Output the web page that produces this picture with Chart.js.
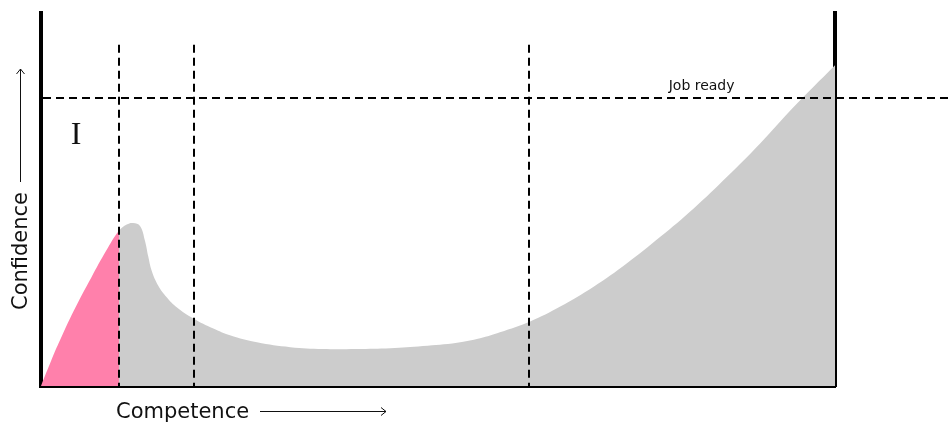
<!DOCTYPE html>
<html>
<head>
<meta charset="utf-8">
<script src="https://cdn.jsdelivr.net/npm/chart.js@4.4.1/dist/chart.umd.min.js"></script>
<style>
  html, body { margin: 0; padding: 0; background: #fff; }
  #wrap { width: 948px; height: 429px; }
</style>
</head>
<body>
<div id="wrap"><canvas id="graphic"></canvas></div>
<script>
// competence (x) vs confidence (y), 0..100 both ways
const competence = [0, 1.3, 2.23, 4.16, 6.34, 8.22, 9.82, 10.8, 11.6, 12.47, 13.1, 13.51, 13.94, 14.77, 15.83, 17.09, 19.18, 21.7, 23.8, 27.2, 31.4, 35.5, 39.8, 44.0, 48.1, 52.4, 55.3, 57.8, 61.6, 65.4, 69.6, 73.8, 78.0, 82.2, 86.4, 90.6, 94.7, 100]
const confidence = [0, 6.9, 11.5, 20.3, 29.1, 36.3, 41.6, 43.3, 43.7, 42.9, 38.9, 34.7, 30.9, 26.9, 23.8, 21.1, 18.1, 15.4, 13.6, 11.7, 10.4, 9.9, 9.9, 10.1, 10.7, 11.6, 12.8, 14.4, 17.3, 21.3, 26.6, 32.9, 40.0, 47.6, 56.1, 65.1, 74.6, 86.0]
const stages = [9.82, 19.3, 61.5]   // vertical dashed dividers
const stageTop = 91.5
const jobReady = 77.3
const pinkEnd = 9.82

const pink = '#ff80ab'
const gray = '#cccccc'
const fuente = '"DejaVu Sans"'

const puntos = competence.map((c, i) => ({x: c, y: confidence[i]}))

const overlay = {
  id: 'overlay',
  afterDraw(chart) {
    const {ctx, scales: {x, y}} = chart
    ctx.save()
    ctx.strokeStyle = '#000'
    ctx.lineWidth = 2
    ctx.setLineDash([8, 5])
    // vertical stage lines
    stages.forEach(s => {
      const px = Math.round(x.getPixelForValue(s))
      ctx.beginPath()
      ctx.moveTo(px, y.getPixelForValue(stageTop))
      ctx.lineTo(px, y.getPixelForValue(0))
      ctx.stroke()
    })
    // job ready line, runs past the right edge
    const jy = Math.round(y.getPixelForValue(jobReady))
    ctx.beginPath()
    ctx.moveTo(x.getPixelForValue(0) + 2, jy)
    ctx.lineTo(chart.width, jy)
    ctx.stroke()
    ctx.setLineDash([])

    ctx.fillStyle = '#111'
    ctx.font = '14px ' + fuente
    ctx.textAlign = 'center'
    ctx.fillText('Job ready', x.getPixelForValue(83.2), jy - 8)

    ctx.font = '32px "Liberation Serif"'
    ctx.fillText('I', 76, 144)

    // x axis title + arrow
    ctx.font = '21px ' + fuente
    ctx.textAlign = 'left'
    ctx.fillText('Competence', 116, 418)
    ctx.lineWidth = 1
    ctx.strokeStyle = '#111'
    ctx.beginPath()
    ctx.moveTo(260, 411.5)
    ctx.lineTo(386, 411.5)
    ctx.moveTo(381, 407.5)
    ctx.lineTo(386, 411.5)
    ctx.lineTo(381, 415.5)
    ctx.stroke()

    // y axis title + arrow
    ctx.save()
    ctx.translate(27, 251)
    ctx.rotate(-Math.PI / 2)
    ctx.textAlign = 'center'
    ctx.fillText('Confidence', 0, 0)
    ctx.restore()
    ctx.beginPath()
    ctx.moveTo(20.5, 182)
    ctx.lineTo(20.5, 69)
    ctx.moveTo(16.5, 74)
    ctx.lineTo(20.5, 69)
    ctx.lineTo(24.5, 74)
    ctx.stroke()
    ctx.restore()
  }
}

const ejeBorde = {display: true, color: '#000', width: 4}
const sinMarcas = {display: false, drawTicks: false}

new Chart(document.getElementById('graphic'), {
  type: 'line',
  data: {
    datasets: [{
      data: puntos,
      backgroundColor: gray,
      borderWidth: 0,
      pointRadius: 0,
      fill: 'origin',
      tension: 0.4,
      segment: {
        backgroundColor: ctx => ctx.p1.parsed.x <= pinkEnd + 0.001 ? pink : gray
      }
    }]
  },
  options: {
    responsive: true,
    maintainAspectRatio: false,
    animation: false,
    layout: {padding: {left: 41, right: 113, top: 13, bottom: 43}},
    plugins: {legend: {display: false}, tooltip: {enabled: false}},
    scales: {
      x: {type: 'linear', min: 0, max: 100, z: 1, ticks: {display: false}, grid: sinMarcas, border: ejeBorde},
      y: {min: 0, max: 100, z: 1, ticks: {display: false}, grid: sinMarcas, border: ejeBorde},
      y2: {position: 'right', min: 0, max: 100, z: 1, ticks: {display: false}, grid: sinMarcas, border: ejeBorde}
    }
  },
  plugins: [overlay]
})
</script>
</body>
</html>
